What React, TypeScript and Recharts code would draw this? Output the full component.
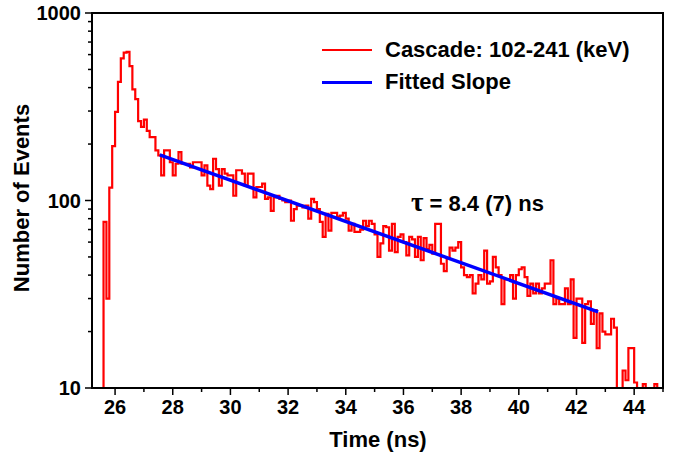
import { LineChart, Line, XAxis, YAxis, ReferenceArea } from 'recharts';

// histogram: 0.1 ns bins starting at 25.5 ns
const binStart = 25.5;
const binWidth = 0.1;
const counts = [
  10, 77, 30, 117, 195, 297, 429, 573, 614, 621,
  521, 391, 347, 265, 247, 270, 235, 218, 218, 185,
  174, 136, 185, 185, 160, 136, 157, 181, 157, 157,
  157, 150, 160, 160, 160, 136, 154, 120, 115, 167,
  147, 120, 147, 139, 136, 136, 106, 145, 145, 139,
  120, 139, 139, 104, 118, 118, 123, 102, 104, 88,
  104, 106, 102, 100, 98, 100, 78, 90, 94, 94,
  92, 94, 80, 102, 98, 90, 77, 64, 85, 69,
  86, 86, 82, 83, 86, 80, 69, 75, 68, 68,
  70, 78, 73, 78, 75, 66, 50, 59, 73, 72,
  54, 75, 53, 64, 66, 60, 51, 64, 62, 50,
  64, 48, 63, 55, 58, 52, 75, 75, 46, 42,
  49, 56, 54, 56, 60, 44, 40, 39, 40, 32,
  36, 40, 38, 54, 36, 37, 50, 44, 40, 28,
  38, 38, 40, 30, 40, 43, 44, 39, 31, 36,
  32, 36, 32, 34, 36, 36, 48, 28, 30, 28,
  28, 34, 28, 38, 18.5, 30, 30, 17.4, 28, 29,
  22, 26, 16.3, 25, 20, 19.3, 19.3, 23.4, 21, 10,
  10, 12.4, 11, 16.3, 16.3, 10.7, 10, 10, 10.5, 10,
  10, 10, 10.5, 10, 10,
];

// fitted exponential slope (straight on log axis), end points
const fitTimes = [27.55, 42.75];
const fitValues = [175, 25.5];

const xTicks = [26, 27, 28, 29, 30, 31, 32, 33, 34, 35, 36, 37, 38, 39, 40, 41, 42, 43, 44, 45];
const xLabelTicks = [26, 28, 30, 32, 34, 36, 38, 40, 42, 44];
const yTicks = [10, 20, 30, 40, 50, 60, 70, 80, 90, 100, 200, 300, 400, 500, 600, 700, 800, 900, 1000];
const yLabelTicks = [10, 100, 1000];

const histData = counts.map((c, i) => ({ t: +(binStart + i * binWidth).toFixed(2), count: c }));
histData.push({ t: +(binStart + counts.length * binWidth).toFixed(2), count: counts[counts.length - 1] });
const fitData = fitTimes.map((t, i) => ({ t, fit: fitValues[i] }));

const font = "'Liberation Sans', Arial, sans-serif";

const XTick = (props: any) => {
  const { x, y, payload } = props;
  const major = xLabelTicks.includes(payload.value);
  return (
    <g>
      <line x1={x} x2={x} y1={y} y2={y + (major ? 7 : 4)} stroke="#000" strokeWidth={1.5} />
      {major && (
        <text x={x} y={y + 26} textAnchor="middle" fontFamily={font} fontWeight="bold" fontSize={20} fill="#000">
          {payload.value}
        </text>
      )}
    </g>
  );
};

const YTick = (props: any) => {
  const { x, y, payload } = props;
  const major = yLabelTicks.includes(payload.value);
  return (
    <g>
      <line x1={x - (major ? 7 : 4)} x2={x} y1={y} y2={y} stroke="#000" strokeWidth={1.5} />
      {major && (
        <text x={x - 11} y={y + 7} textAnchor="end" fontFamily={font} fontWeight="bold" fontSize={20} fill="#000">
          {payload.value}
        </text>
      )}
    </g>
  );
};

const textStyle: React.CSSProperties = {
  position: 'absolute',
  fontFamily: font,
  fontWeight: 'bold',
  fontSize: 22,
  color: '#000',
  whiteSpace: 'nowrap',
  lineHeight: 1,
};

export default function App() {
  return (
    <div style={{ position: 'absolute', left: 0, top: 0, width: 681, height: 461, background: '#fff' }}>
      <LineChart width={681} height={461} margin={{ top: 13, right: 18, left: 0, bottom: 0 }}>
        <XAxis
          dataKey="t"
          type="number"
          domain={[25.2, 45]}
          ticks={xTicks}
          interval={0}
          allowDataOverflow
          height={73}
          tickLine={false}
          tickSize={0}
          tickMargin={0}
          tick={<XTick />}
          axisLine={{ stroke: '#000', strokeWidth: 2 }}
        />
        <YAxis
          scale="log"
          domain={[10, 1000]}
          ticks={yTicks}
          interval={0}
          allowDataOverflow
          width={92}
          tickLine={false}
          tickSize={0}
          tickMargin={0}
          tick={<YTick />}
          axisLine={{ stroke: '#000', strokeWidth: 2 }}
        />
        <Line
          data={histData}
          dataKey="count"
          type="stepAfter"
          stroke="#ff0000"
          strokeWidth={2.2}
          dot={false}
          isAnimationActive={false}
        />
        <Line
          data={fitData}
          dataKey="fit"
          type="linear"
          stroke="#0000ff"
          strokeWidth={3.5}
          dot={false}
          isAnimationActive={false}
        />
        <ReferenceArea x1={25.2} x2={45} y1={10} y2={1000} fill="none" stroke="#000" strokeWidth={2} />
      </LineChart>

      {/* legend */}
      <div style={{ position: 'absolute', left: 322, top: 49, width: 50, height: 2, background: '#ff0000' }} />
      <div style={{ ...textStyle, left: 385, top: 39 }}>Cascade: 102-241 (keV)</div>
      <div style={{ position: 'absolute', left: 322, top: 81, width: 50, height: 3, background: '#0000ff' }} />
      <div style={{ ...textStyle, left: 385, top: 71 }}>Fitted Slope</div>

      {/* annotation */}
      <div style={{ ...textStyle, left: 411, top: 189 }}>
        <span style={{ fontFamily: "'Liberation Serif', serif", fontSize: 27 }}>τ</span> = 8.4 (7) ns
      </div>

      {/* axis titles */}
      <div style={{ ...textStyle, left: 378, top: 429, transform: 'translateX(-50%)' }}>Time (ns)</div>
      <div
        style={{
          ...textStyle,
          left: 22,
          top: 198,
          transform: 'translate(-50%, -50%) rotate(-90deg)',
        }}
      >
        Number of Events
      </div>
    </div>
  );
}
